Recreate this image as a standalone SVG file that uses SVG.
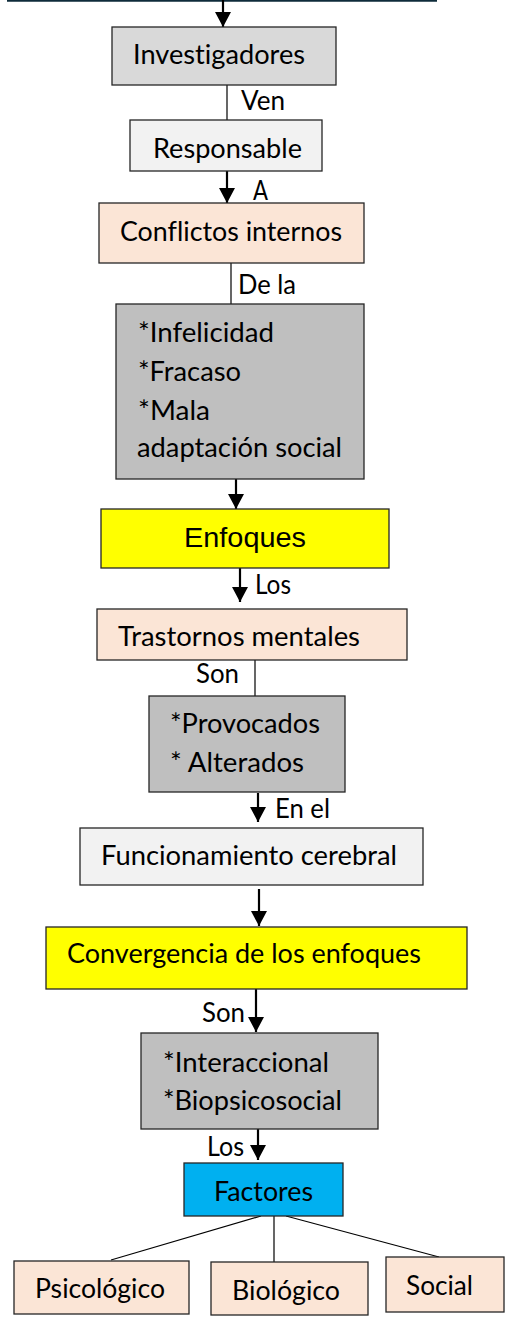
<svg xmlns="http://www.w3.org/2000/svg" width="518" height="1322" viewBox="0 0 518 1322">
<defs>
<marker id="arr" viewBox="0 0 15 16" refX="15" refY="8" markerWidth="15" markerHeight="16" markerUnits="userSpaceOnUse" orient="auto">
<path d="M0,0 L15,8 L0,16 z" fill="#000"/>
</marker>
</defs>
<style>
.box{stroke:#262626;stroke-width:1.3}
.t{font-family:Lato,"Open Sans","Liberation Sans",sans-serif;font-size:26px;fill:#000;font-variant-ligatures:none;font-feature-settings:"liga" 0,"dlig" 0}
.a{font-family:"Liberation Sans",Arial,sans-serif;font-size:28px;fill:#000}
.arrow{stroke:#000;stroke-width:2.2;fill:none;marker-end:url(#arr)}
.plain{stroke:#000;stroke-width:1.2;fill:none}
.gray{fill:#bfbfbf}
.peach{fill:#fbe5d6}
.light{fill:#f2f2f2}
.yellow{fill:#ffff00}
</style>
<rect width="518" height="1322" fill="#fff"/>
<line x1="7" y1="0.8" x2="437" y2="0.8" stroke="#0e2b3a" stroke-width="2"/>

<g id="connectors">
<line class="arrow" x1="223" y1="0" x2="223" y2="27"/>
<line class="plain" x1="227" y1="85" x2="227" y2="120"/>
<line class="arrow" x1="227" y1="171" x2="227" y2="203"/>
<line class="plain" x1="231" y1="263" x2="231" y2="304"/>
<line class="arrow" x1="236" y1="479" x2="236" y2="509"/>
<line class="arrow" x1="240" y1="568" x2="240" y2="602"/>
<line class="plain" x1="255" y1="660" x2="255" y2="696"/>
<line class="arrow" x1="258" y1="793" x2="258" y2="822"/>
<line class="arrow" x1="259" y1="889" x2="259" y2="926"/>
<line class="arrow" x1="256" y1="989" x2="256" y2="1032"/>
<line class="arrow" x1="258" y1="1129" x2="258" y2="1160"/>
<line class="plain" x1="261" y1="1216" x2="111" y2="1260"/>
<line class="plain" x1="274" y1="1216" x2="274" y2="1262"/>
<line class="plain" x1="286" y1="1216" x2="439" y2="1257"/>
<text class="t" x="241" y="110" textLength="44" lengthAdjust="spacingAndGlyphs">Ven</text>
<text class="t" x="253" y="200" textLength="15" lengthAdjust="spacingAndGlyphs">A</text>
<text class="t" x="238" y="294" textLength="58" lengthAdjust="spacingAndGlyphs">De la</text>
<text class="t" x="255" y="594" textLength="36" lengthAdjust="spacingAndGlyphs">Los</text>
<text class="t" x="196" y="683" textLength="43" lengthAdjust="spacingAndGlyphs">Son</text>
<text class="t" x="275" y="818" textLength="55" lengthAdjust="spacingAndGlyphs">En el</text>
<text class="t" x="202" y="1022" textLength="43" lengthAdjust="spacingAndGlyphs">Son</text>
<text class="t" x="207" y="1156" textLength="37" lengthAdjust="spacingAndGlyphs">Los</text>
</g>

<g id="investigadores">
<rect class="box" x="112" y="27" width="224" height="58" fill="#d9d9d9"/>
<text class="t" x="133" y="64" textLength="172" lengthAdjust="spacingAndGlyphs">Investigadores</text>
</g>
<g id="responsable">
<rect class="box light" x="130" y="120" width="192" height="51"/>
<text class="t" x="153" y="158" textLength="149" lengthAdjust="spacingAndGlyphs">Responsable</text>
</g>
<g id="conflictos">
<rect class="box peach" x="99" y="203" width="265" height="60"/>
<text class="t" x="120" y="241" textLength="222" lengthAdjust="spacingAndGlyphs">Conflictos internos</text>
</g>
<g id="infelicidad">
<rect class="box gray" x="116" y="304" width="248" height="175"/>
<text class="t" x="138" y="342" textLength="136" lengthAdjust="spacingAndGlyphs">*Infelicidad</text>
<text class="t" x="138" y="381" textLength="103" lengthAdjust="spacingAndGlyphs">*Fracaso</text>
<text class="t" x="138" y="420" textLength="72" lengthAdjust="spacingAndGlyphs">*Mala</text>
<text class="t" x="137" y="457" textLength="205" lengthAdjust="spacingAndGlyphs">adaptación social</text>
</g>
<g id="enfoques">
<rect class="box yellow" x="101" y="509" width="288" height="59"/>
<text class="a" x="184" y="547" textLength="122" lengthAdjust="spacingAndGlyphs">Enfoques</text>
</g>
<g id="trastornos">
<rect class="box peach" x="97" y="609" width="310" height="51"/>
<text class="t" x="118" y="646" textLength="242" lengthAdjust="spacingAndGlyphs">Trastornos mentales</text>
</g>
<g id="provocados">
<rect class="box gray" x="149" y="696" width="196" height="96"/>
<text class="t" x="170" y="733" textLength="150" lengthAdjust="spacingAndGlyphs">*Provocados</text>
<text class="t" x="170" y="772" textLength="134" lengthAdjust="spacingAndGlyphs">* Alterados</text>
</g>
<g id="funcionamiento">
<rect class="box light" x="80" y="828" width="343" height="57"/>
<text class="t" x="101" y="865" textLength="296" lengthAdjust="spacingAndGlyphs">Funcionamiento cerebral</text>
</g>
<g id="convergencia">
<rect class="box yellow" x="46" y="927" width="421" height="62"/>
<text class="t" x="67" y="963" textLength="354" lengthAdjust="spacingAndGlyphs">Convergencia de los enfoques</text>
</g>
<g id="interaccional">
<rect class="box gray" x="141" y="1033" width="237" height="96"/>
<text class="t" x="163" y="1072" textLength="166" lengthAdjust="spacingAndGlyphs">*Interaccional</text>
<text class="t" x="163" y="1110" textLength="179" lengthAdjust="spacingAndGlyphs">*Biopsicosocial</text>
</g>
<g id="factores">
<rect class="box" x="184" y="1163" width="159" height="53" fill="#00b0f0"/>
<text class="t" x="214" y="1201" textLength="99" lengthAdjust="spacingAndGlyphs">Factores</text>
</g>
<g id="psicologico">
<rect class="box peach" x="14" y="1261" width="175" height="53"/>
<text class="t" x="35" y="1298" textLength="130" lengthAdjust="spacingAndGlyphs">Psicológico</text>
</g>
<g id="biologico">
<rect class="box peach" x="211" y="1262" width="157" height="53"/>
<text class="t" x="232" y="1300" textLength="108" lengthAdjust="spacingAndGlyphs">Biológico</text>
</g>
<g id="social">
<rect class="box peach" x="386" y="1257" width="118" height="55"/>
<text class="t" x="406" y="1295" textLength="67" lengthAdjust="spacingAndGlyphs">Social</text>
</g>
</svg>
